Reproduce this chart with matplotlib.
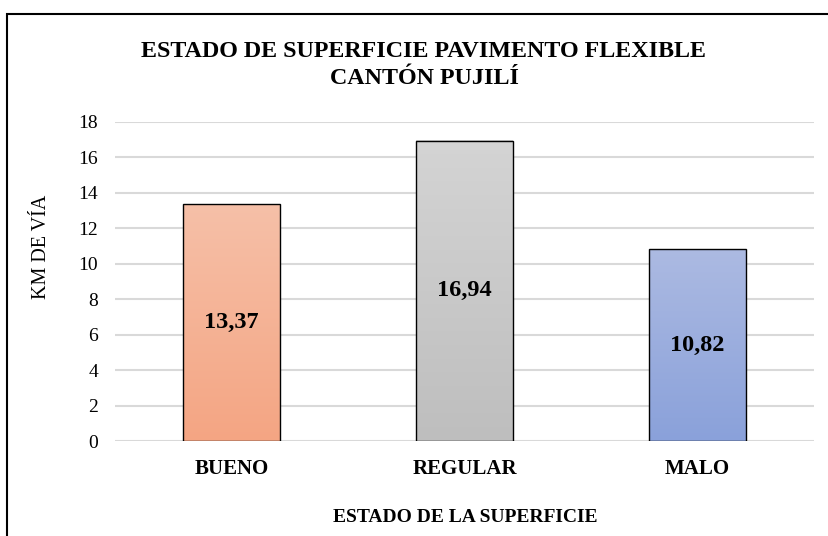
import numpy as np
import matplotlib
matplotlib.use('Agg')
import matplotlib.pyplot as plt
from matplotlib.colors import LinearSegmentedColormap
from matplotlib.patches import Rectangle

categories = ['BUENO', 'REGULAR', 'MALO']
km_values = [13.37, 16.94, 10.82]
value_labels = ['13,37', '16,94', '10,82']
y_ticks = [0, 2, 4, 6, 8, 10, 12, 14, 16, 18]
title_lines = ['ESTADO DE SUPERFICIE PAVIMENTO FLEXIBLE', 'CANTÓN PUJILÍ']

# top / bottom colour of each gradient bar
bar_colors = [('#F6C0A8', '#F4A583'), ('#D4D4D4', '#BEBEBE'), ('#ACBAE2', '#8AA1DA')]

plt.rcParams['font.family'] = ['Liberation Serif', 'DejaVu Serif']

fig = plt.figure(figsize=(8.29, 5.36), dpi=100)
ax = fig.add_axes([115 / 829, 1 - 441 / 536, 699 / 829, 319 / 536])

x = np.arange(len(categories))
width = 0.415
bars = ax.bar(x, km_values, width, facecolor='none', edgecolor='black', linewidth=1.0, zorder=3)

grad = np.linspace(0, 1, 256).reshape(-1, 1)
for b, (top, bottom) in zip(bars, bar_colors):
    cmap = LinearSegmentedColormap.from_list('g', [bottom, top])
    x0 = b.get_x()
    ax.imshow(grad, cmap=cmap, origin='lower', aspect='auto',
              extent=[x0, x0 + b.get_width(), 0, b.get_height()], zorder=2)

for b, lab in zip(bars, value_labels):
    ax.text(b.get_x() + b.get_width() / 2, b.get_height() / 2, lab,
            ha='center', va='center', fontsize=17.5, fontweight='bold', zorder=4)

ax.set_xlim(-0.5, 2.5)
ax.set_ylim(0, 18)
ax.set_yticks(y_ticks)
ax.set_xticks(x)
ax.set_xticklabels(categories, fontsize=15, fontweight='bold')
ax.tick_params(axis='y', labelsize=14, length=0, pad=12)
ax.tick_params(axis='x', length=0, pad=13)
ax.grid(axis='y', color='#D9D9D9', linewidth=1.5, zorder=0)
ax.set_axisbelow(True)
for s in ax.spines.values():
    s.set_visible(False)

fig.text(42 / 829, 1 - 247 / 536, 'KM DE VÍA', rotation=90, ha='center', va='center', fontsize=14.5)
fig.text(465 / 829, 1 - 517 / 536, 'ESTADO DE LA SUPERFICIE', ha='center', va='center',
         fontsize=14, fontweight='bold')
for line, base in zip(title_lines, [57, 84]):
    fig.text(424 / 829, 1 - base / 536, line, ha='center', va='baseline',
             fontsize=17.3, fontweight='bold')

fig.patches.append(Rectangle((7 / 829, -0.1), 1.2, 1 - 14 / 536 + 0.1, transform=fig.transFigure,
                             fill=False, edgecolor='black', linewidth=1.5))

fig.savefig('out.png', dpi=100)
